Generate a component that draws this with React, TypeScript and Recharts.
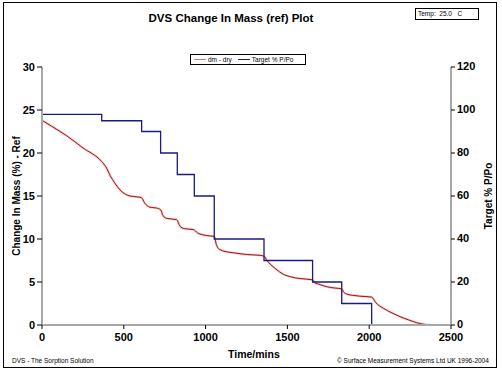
import React from 'react';
import { ComposedChart, Line, XAxis, YAxis } from 'recharts';

const timeTicks = [0, 500, 1000, 1500, 2000, 2500];
const massTicks = [0, 5, 10, 15, 20, 25, 30];
const ppTicks = [0, 20, 40, 60, 80, 100, 120];

const massTimes = [0, 60, 151, 250, 365, 390, 416, 445, 477, 510, 538, 580, 609, 627, 660, 700, 725, 740, 762, 823, 843, 870, 925, 951, 980, 1007, 1053, 1065, 1078, 1110, 1170, 1250, 1333, 1357, 1375, 1394, 1430, 1475, 1520, 1577, 1654, 1665, 1700, 1740, 1790, 1832, 1845, 1862, 1900, 1944, 2015, 2040, 2086, 2140, 2188, 2240, 2290, 2340, 2372];
const massValues = [23.8, 23.1, 22.0, 20.6, 19.0, 18.4, 17.4, 16.5, 15.7, 15.2, 15.0, 14.9, 14.8, 14.2, 13.7, 13.6, 13.4, 12.7, 12.4, 12.25, 11.5, 11.2, 11.1, 10.7, 10.5, 10.4, 10.3, 9.4, 8.9, 8.6, 8.4, 8.2, 8.1, 8.0, 7.5, 7.1, 6.5, 5.9, 5.6, 5.4, 5.25, 4.95, 4.7, 4.45, 4.3, 4.2, 3.8, 3.6, 3.45, 3.35, 3.25, 2.6, 1.95, 1.4, 0.97, 0.6, 0.27, 0.07, 0];

const targetTimes = [0, 365, 609, 725, 827, 931, 1053, 1357, 1654, 1832, 2015, 2370];
const targetValues = [98, 95, 90, 80, 70, 60, 40, 30, 20, 10, 0, 0];

const massData = massTimes.map((t, i) => ({ t, dm: massValues[i] }));
const targetData = targetTimes.map((t, i) => ({ t, pp: targetValues[i] }));

const FONT = '"Liberation Sans", Arial, sans-serif';
const RED = '#8b0000';
const BLUE = '#1a1a80';
const AXIS = '#a8a8a8';

const tickStyle = { fill: '#000', fontSize: 11, fontWeight: 'bold' as const, fontFamily: FONT };

function LegendBox() {
  return (
    <div style={{ position: 'absolute', left: 190, top: 54, width: 114, height: 9, border: '1px solid #000', background: '#fff', display: 'flex', alignItems: 'center', fontSize: 6.5, fontFamily: FONT, color: '#000', lineHeight: '9px', boxSizing: 'content-box' }}>
      <span style={{ display: 'inline-block', width: 12, height: 1, background: '#e07070', marginLeft: 3, marginRight: 2 }} />
      <span>dm - dry</span>
      <span style={{ display: 'inline-block', width: 12, height: 1, background: BLUE, marginLeft: 6, marginRight: 2 }} />
      <span>Target % P/Po</span>
    </div>
  );
}

export default function App() {
  return (
    <div style={{ position: 'absolute', left: 0, top: 0, width: 502, height: 375, background: '#fff', fontFamily: FONT }}>
      <div style={{ position: 'absolute', left: 3, top: 2, width: 494, height: 366, border: '1.5px solid #000', boxSizing: 'border-box' }} />
      <div style={{ position: 'absolute', left: 0, width: 462, top: 12, textAlign: 'center', fontSize: 11.5, fontWeight: 'bold', color: '#000' }}>DVS Change In Mass (ref) Plot</div>
      <div style={{ position: 'absolute', left: 415, top: 8, width: 60, height: 10, border: '1px solid #000', fontSize: 6.5, lineHeight: '10px', paddingLeft: 2, boxSizing: 'content-box', color: '#000', whiteSpace: 'pre' }}>Temp:  25.0   C</div>
      <ComposedChart width={502} height={375} margin={{ top: 67, right: 11, bottom: 20, left: 0 }}>
        <XAxis
          xAxisId="x"
          type="number"
          dataKey="t"
          domain={[0, 2500]}
          ticks={timeTicks}
          allowDataOverflow
          height={30}
          axisLine={{ stroke: AXIS, strokeWidth: 2 }}
          tickLine={{ stroke: '#000' }}
          tickSize={4}
          tickMargin={4}
          tick={tickStyle}
        />
        <YAxis
          yAxisId="left"
          type="number"
          domain={[0, 30]}
          ticks={massTicks}
          width={42}
          axisLine={{ stroke: AXIS, strokeWidth: 2 }}
          tickLine={{ stroke: '#000' }}
          tickSize={5}
          tickMargin={2}
          tick={tickStyle}
        />
        <YAxis
          yAxisId="right"
          orientation="right"
          type="number"
          domain={[0, 120]}
          ticks={ppTicks}
          width={40}
          axisLine={{ stroke: AXIS, strokeWidth: 2 }}
          tickLine={{ stroke: '#000' }}
          tickSize={4}
          tickMargin={2}
          tick={{ ...tickStyle, dy: -1 }}
        />
        <Line
          xAxisId="x"
          yAxisId="left"
          data={massData}
          dataKey="dm"
          name="dm - dry halo"
          type="monotone"
          stroke="#f8cccc"
          strokeWidth={2.5}
          dot={false}
          legendType="none"
          isAnimationActive={false}
        />
        <Line
          xAxisId="x"
          yAxisId="left"
          data={massData}
          dataKey="dm"
          name="dm - dry"
          type="monotone"
          stroke={RED}
          strokeWidth={0.9}
          dot={false}
          isAnimationActive={false}
        />
        <Line
          xAxisId="x"
          yAxisId="right"
          data={targetData}
          dataKey="pp"
          name="Target % P/Po"
          type="stepAfter"
          stroke={BLUE}
          strokeWidth={1.3}
          dot={false}
          isAnimationActive={false}
        />
      </ComposedChart>
      <LegendBox />
      <div style={{ position: 'absolute', left: 16, top: 196, transform: 'translate(-50%, -50%) rotate(-90deg)', whiteSpace: 'nowrap', fontSize: 10, fontWeight: 'bold', color: '#000' }}>Change In Mass (%) - Ref</div>
      <div style={{ position: 'absolute', left: 488, top: 196, transform: 'translate(-50%, -50%) rotate(-90deg)', whiteSpace: 'nowrap', fontSize: 10, fontWeight: 'bold', color: '#000' }}>Target % P/Po</div>
      <div style={{ position: 'absolute', left: 228, top: 348, fontSize: 10.5, fontWeight: 'bold', color: '#000' }}>Time/mins</div>
      <div style={{ position: 'absolute', left: 12, top: 357, fontSize: 6.5, color: '#000' }}>DVS - The Sorption Solution</div>
      <div style={{ position: 'absolute', left: 337, top: 357, fontSize: 6.5, color: '#000' }}>© Surface Measurement Systems Ltd UK 1996-2004</div>
    </div>
  );
}
